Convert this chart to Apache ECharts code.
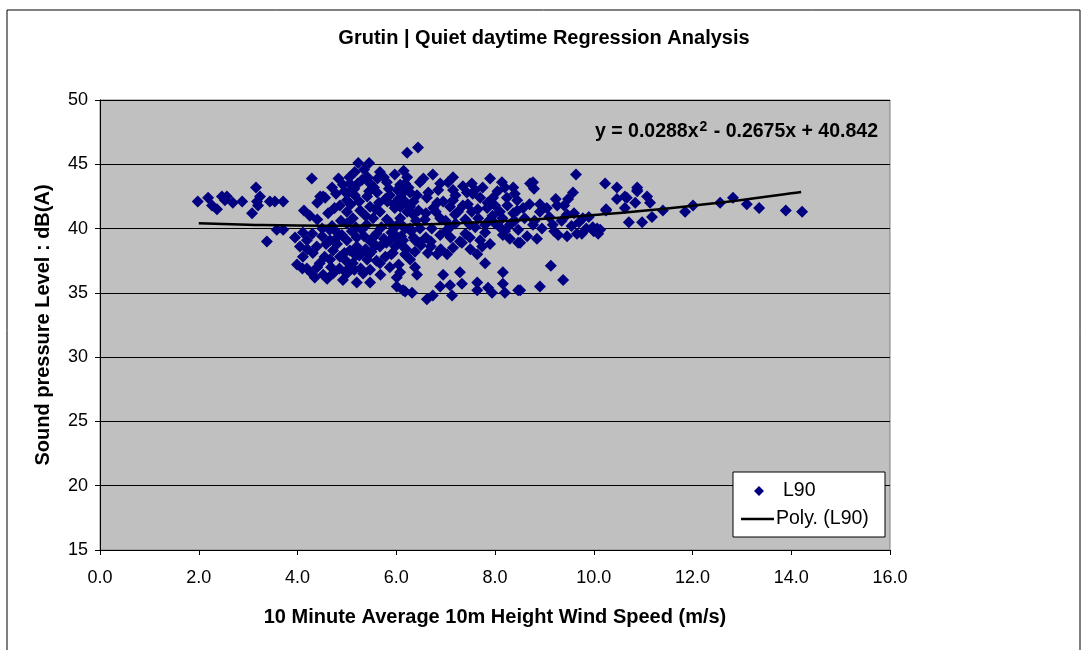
<!DOCTYPE html>
<html>
<head>
<meta charset="utf-8">
<title>Grutin | Quiet daytime Regression Analysis</title>
<script src="https://cdn.jsdelivr.net/npm/echarts@6/dist/echarts.min.js"></script>
<style>
  html, body { margin: 0; padding: 0; background: #fff; }
  #chart { width: 1088px; height: 650px; }
</style>
</head>
<body>
<div id="chart"></div>
<script>
// L90 measurements [wind speed m/s, dB(A)]
const l90Left = [
  [1.98, 42.1], [2.19, 42.4], [2.27, 41.8], [2.37, 41.5], [2.47, 42.5], [2.57, 42.5],
  [2.53, 42.2], [2.69, 42.0], [2.88, 42.1], [3.16, 43.2], [3.24, 42.5], [3.18, 42.1],
  [3.20, 41.8], [3.08, 41.2], [3.44, 42.1], [3.54, 42.1], [3.71, 42.1], [3.58, 39.9],
  [3.71, 39.9], [3.38, 39.0]
]
const l90Core = [
  [4.29, 43.9], [4.46, 42.5], [4.56, 42.4], [4.13, 41.4], [4.62, 41.2], [4.52, 42.5],
  [5.23, 45.1], [5.45, 45.1], [5.16, 44.4], [5.67, 44.4], [5.97, 44.2],
  [4.92, 43.4], [5.06, 43.5], [5.31, 43.8], [5.47, 43.5], [5.81, 43.6], [6.08, 43.4],
  [5.00, 42.2], [5.16, 42.6], [5.41, 42.5], [5.61, 42.8], [5.87, 42.6], [6.14, 42.8],
  [4.86, 41.8], [5.00, 41.3], [5.27, 41.4], [5.47, 41.7], [5.67, 41.3], [5.97, 41.6], [6.22, 41.3],
  [5.12, 40.8], [5.53, 40.8], [5.81, 40.7], [6.08, 40.8],
  [3.95, 39.3], [4.11, 39.7], [4.05, 38.6], [4.19, 39.1], [4.39, 38.6], [4.31, 38.1],
  [4.11, 37.8], [3.99, 37.2], [4.19, 36.9], [4.29, 36.5], [4.52, 36.4], [4.72, 36.5],
  [4.92, 36.0], [5.20, 35.8], [5.47, 35.8], [6.01, 36.2], [6.01, 35.5], [6.18, 35.1],
  [4.66, 39.1], [4.80, 39.7], [4.72, 38.3], [4.86, 37.8], [4.66, 37.6], [5.00, 39.1],
  [5.20, 39.3], [5.06, 38.3], [5.27, 38.1], [5.12, 37.3], [5.41, 37.6], [5.53, 39.3],
  [5.67, 38.6], [5.47, 36.8], [5.67, 37.3], [5.87, 39.1], [5.93, 38.1], [6.14, 38.6],
  [5.87, 37.0], [5.00, 36.5], [5.33, 36.5], [5.06, 37.0],
  [4.70, 40.2], [4.80, 38.8], [4.90, 39.5], [5.00, 40.4], [5.10, 39.8], [5.20, 38.6],
  [5.30, 39.9], [5.40, 40.3], [5.50, 38.2], [5.60, 39.6], [5.70, 40.1], [5.80, 38.9],
  [5.90, 39.7], [6.00, 40.2], [6.10, 39.4], [6.20, 38.4], [6.30, 39.8], [6.40, 40.6], [6.50, 38.7],
  [4.75, 41.6], [4.95, 42.9], [5.05, 44.0], [5.15, 43.1], [5.25, 42.1], [5.35, 44.6],
  [5.45, 42.9], [5.55, 43.2], [5.65, 42.0], [5.75, 44.0], [5.85, 43.1], [5.95, 41.9],
  [6.05, 42.3], [6.15, 44.5], [6.25, 43.2], [6.35, 42.1], [6.45, 41.4], [6.55, 43.9],
  [4.55, 37.8], [4.65, 39.9], [4.85, 36.9], [4.95, 38.1], [5.15, 36.8], [5.25, 37.9],
  [5.35, 39.4], [5.45, 38.0], [5.60, 37.5], [5.75, 39.2], [5.90, 38.0], [6.05, 37.2],
  [6.20, 37.9], [6.35, 39.3], [4.40, 40.7], [4.50, 39.4], [4.45, 37.3], [4.60, 36.1], [4.35, 36.2],
  [4.78, 42.7], [4.88, 40.6], [4.98, 37.5], [5.08, 41.9], [5.18, 40.1], [5.28, 36.9],
  [5.38, 41.0], [5.48, 39.0], [5.58, 41.5], [5.68, 36.4], [5.78, 42.3], [5.88, 40.4],
  [5.98, 38.6], [6.08, 39.0], [6.18, 42.1], [6.28, 41.7], [6.38, 38.2], [6.48, 40.0],
  [4.83, 43.9], [5.03, 42.8], [5.22, 43.5], [5.42, 44.0], [5.62, 43.9], [5.82, 42.1],
  [6.02, 43.0], [6.22, 44.0], [6.42, 42.6], [4.58, 38.8], [4.68, 37.0], [4.78, 39.2],
  [4.98, 36.6], [5.18, 37.9], [5.38, 38.4], [5.58, 38.7], [5.78, 37.8], [5.98, 39.5],
  [6.18, 40.0], [6.38, 37.0], [4.20, 38.4], [4.30, 39.6], [4.10, 36.9], [4.40, 37.0],
  [4.50, 40.0], [4.25, 41.0], [4.70, 43.2], [4.40, 42.0]
]
const l90Mid = [
  [6.22, 45.9], [6.44, 46.3], [6.74, 44.2], [7.15, 44.0], [7.53, 43.5], [7.90, 43.9],
  [8.14, 43.6], [8.37, 43.2], [6.48, 43.6], [6.18, 43.5], [6.89, 43.5], [7.15, 43.0],
  [7.43, 42.8], [7.70, 42.4], [7.96, 42.4], [8.24, 42.4], [8.45, 42.2], [8.57, 41.6],
  [6.28, 42.8], [6.62, 42.4], [6.83, 42.0], [7.09, 41.7], [7.35, 41.8], [7.53, 41.3],
  [7.84, 41.6], [8.10, 41.3], [8.37, 41.2], [6.08, 41.7], [6.34, 41.1], [6.58, 40.7],
  [6.89, 40.8], [7.19, 41.1], [7.66, 40.8], [7.90, 40.7], [8.30, 40.3], [6.08, 40.4],
  [6.28, 40.0], [6.72, 40.0], [7.09, 40.1], [7.49, 40.3], [8.10, 40.1], [8.47, 39.9],
  [6.14, 39.1], [6.38, 39.1], [6.48, 38.9], [6.89, 39.5], [7.29, 39.0], [7.49, 39.3],
  [7.70, 39.1], [7.74, 38.6], [8.16, 39.5], [8.47, 38.9], [6.18, 38.0], [6.28, 37.6],
  [6.64, 38.1], [6.83, 38.0], [7.03, 38.0], [7.15, 38.5], [7.33, 38.9], [7.64, 38.0],
  [7.80, 37.3], [6.08, 36.6], [6.42, 36.4], [6.95, 36.4], [7.29, 36.6], [8.16, 36.6],
  [6.14, 35.2], [6.32, 35.0], [6.62, 34.5], [6.74, 34.8], [6.89, 35.5], [7.09, 35.6],
  [7.13, 34.8], [7.33, 35.7], [7.64, 35.8], [7.64, 35.2], [7.86, 35.4], [7.94, 35.0],
  [8.20, 35.0], [8.16, 35.7], [8.47, 35.2],
  [6.65, 42.8], [6.75, 41.6], [6.85, 43.0], [6.95, 42.1], [7.05, 43.6], [7.15, 42.2],
  [7.25, 41.3], [7.35, 43.3], [7.45, 41.9], [7.55, 42.7], [7.65, 41.5], [7.75, 43.2],
  [7.85, 42.0], [7.95, 41.0], [8.05, 42.9], [8.15, 40.8], [8.25, 41.8], [8.35, 40.5],
  [8.45, 41.4], [6.60, 39.3], [6.70, 38.6], [6.90, 38.4], [7.00, 39.8], [7.20, 40.4],
  [7.40, 39.6], [7.60, 40.1], [7.80, 39.7], [8.00, 40.4], [8.20, 39.8], [8.40, 40.6],
  [6.60, 41.2], [6.80, 41.3], [7.00, 40.6], [7.20, 42.6], [7.40, 40.7], [7.60, 43.0],
  [7.80, 40.3], [8.00, 41.8], [8.20, 43.2], [8.40, 42.7], [6.70, 39.0], [7.10, 39.3],
  [7.50, 38.4], [7.90, 38.8], [8.30, 39.2]
]
const l90Right = [
  [9.64, 44.2], [8.77, 43.6], [8.79, 43.1], [9.58, 42.8], [9.48, 42.3], [9.23, 42.3],
  [9.26, 41.8], [8.91, 41.9], [8.91, 41.3], [9.46, 41.1], [8.71, 43.5],
  [9.78, 40.8], [9.98, 40.1], [10.09, 39.6], [10.07, 40.0], [9.66, 39.6], [9.76, 39.6],
  [9.46, 39.4], [9.28, 39.5], [9.17, 40.3], [8.77, 40.3], [8.65, 39.4], [8.85, 39.2],
  [8.51, 38.9], [9.13, 37.1], [9.38, 36.0], [8.91, 35.5], [8.51, 35.2],
  [8.60, 40.8], [8.70, 41.9], [8.80, 40.6], [8.95, 40.0], [9.05, 41.6], [9.10, 40.9],
  [9.20, 39.8], [9.35, 40.6], [9.40, 41.8], [9.55, 40.2], [9.60, 41.2], [9.70, 40.5],
  [9.85, 40.0], [9.90, 40.9], [10.00, 39.8],
  [10.23, 43.5], [10.47, 43.2], [10.47, 42.3], [10.63, 42.5], [10.63, 41.6], [10.88, 43.2],
  [10.88, 42.9], [10.84, 42.0], [11.08, 42.5], [11.14, 42.0], [10.71, 40.5], [10.98, 40.5],
  [11.18, 40.9], [10.25, 41.4], [10.13, 39.9], [10.67, 42.4], [10.88, 43.0], [10.25, 41.5],
  [11.40, 41.4], [11.85, 41.3], [12.01, 41.8], [12.56, 42.0], [12.82, 42.4], [13.10, 41.9],
  [13.35, 41.6], [13.89, 41.4], [14.22, 41.3]
]
const l90 = l90Left.concat(l90Core, l90Mid, l90Right)

// polynomial trendline
const polyX = [2.0, 3.0, 4.0, 5.0, 6.0, 7.0, 8.0, 9.0, 10.0, 11.0, 12.0, 13.0, 14.0, 14.2]
const polyY = [40.42, 40.30, 40.23, 40.22, 40.27, 40.38, 40.55, 40.77, 41.05, 41.38, 41.78, 42.23, 42.74, 42.85]

const FONT = 'Liberation Sans'

const chart = echarts.init(document.getElementById('chart'))
chart.setOption({
  backgroundColor: '#fff',
  animation: false,
  textStyle: { fontFamily: FONT, color: '#000' },
  title: [
    {
      text: 'Grutin | Quiet daytime Regression Analysis',
      left: 'center',
      top: 23,
      textStyle: { fontFamily: FONT, fontSize: 20, fontWeight: 'bold', color: '#000' }
    },
    {
      text: 'y = 0.0288x{sup|2} - 0.2675x + 40.842',
      right: 205,
      top: 115,
      textStyle: {
        fontFamily: FONT, fontSize: 19.5, fontWeight: 'bold', color: '#000',
        rich: {
          sup: { fontFamily: FONT, fontSize: 14, fontWeight: 'bold', verticalAlign: 'top', padding: [0, 1, 10, 1] }
        }
      }
    }
  ],
  grid: {
    left: 100,
    right: 198,
    top: 100,
    bottom: 100,
    show: true,
    backgroundColor: '#C0C0C0',
    borderColor: '#808080',
    borderWidth: 1
  },
  graphic: [
    {
      type: 'rect',
      z: 3,
      shape: { x: 7, y: 10, width: 1073, height: 700 },
      style: { fill: null, stroke: '#000', lineWidth: 1 }
    },
    {
      type: 'rect',
      z: 3,
      shape: { x: 733, y: 472, width: 152, height: 65 },
      style: { fill: '#fff', stroke: '#000', lineWidth: 1 }
    }
  ],
  legend: [
    {
      data: ['L90'],
      left: 754,
      top: 481,
      padding: 0,
      z: 5,
      icon: 'diamond',
      itemWidth: 10,
      itemHeight: 10,
      textStyle: { fontFamily: FONT, fontSize: 19.5, color: '#000', padding: [0, 0, 0, 14] }
    },
    {
      data: [{ name: 'Poly. (L90)', icon: 'rect' }],
      left: 741,
      top: 509,
      padding: 0,
      z: 5,
      itemWidth: 33,
      itemHeight: 2.5,
      textStyle: { fontFamily: FONT, fontSize: 19.5, color: '#000', padding: [0, 0, 0, -3] }
    }
  ],
  xAxis: {
    type: 'value',
    min: 0,
    max: 16,
    interval: 2,
    name: '10 Minute Average 10m Height Wind Speed (m/s)',
    nameLocation: 'middle',
    nameGap: 57,
    nameTextStyle: { fontFamily: FONT, fontSize: 20, fontWeight: 'bold', color: '#000' },
    axisLine: { onZero: false, lineStyle: { color: '#000', width: 1 } },
    axisTick: { show: true, length: 5, lineStyle: { color: '#000' } },
    axisLabel: {
      margin: 19,
      fontFamily: FONT,
      fontSize: 18,
      color: '#000',
      formatter: v => v.toFixed(1)
    },
    splitLine: { show: false }
  },
  yAxis: {
    type: 'value',
    min: 15,
    max: 50,
    interval: 5,
    name: 'Sound pressure Level : dB(A)',
    nameLocation: 'middle',
    nameGap: 47,
    nameTextStyle: { fontFamily: FONT, fontSize: 20, fontWeight: 'bold', color: '#000' },
    axisLine: { show: true, onZero: false, lineStyle: { color: '#000', width: 1 } },
    axisTick: { show: true, length: 5, lineStyle: { color: '#000' } },
    axisLabel: { margin: 12, fontFamily: FONT, fontSize: 18, color: '#000' },
    splitLine: { show: true, lineStyle: { color: '#000', width: 1 } }
  },
  series: [
    {
      name: 'L90',
      type: 'scatter',
      symbol: 'diamond',
      symbolSize: 12,
      itemStyle: { color: '#000080', opacity: 1 },
      data: l90
    },
    {
      name: 'Poly. (L90)',
      type: 'line',
      symbol: 'none',
      smooth: true,
      lineStyle: { color: '#000', width: 2.5 },
      itemStyle: { color: '#000' },
      data: polyX.map((x, i) => [x, polyY[i]]),
      z: 4
    }
  ]
})
</script>
</body>
</html>
